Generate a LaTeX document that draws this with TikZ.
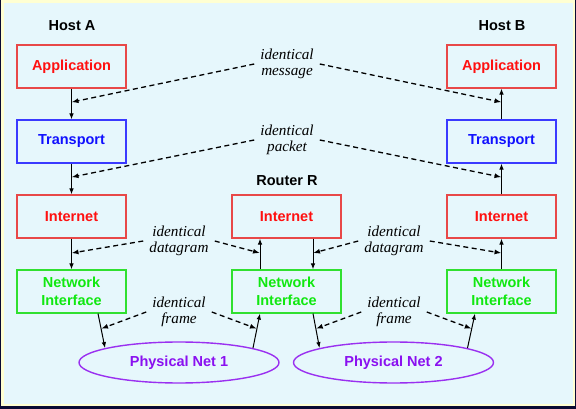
\documentclass[tikz,border=0pt]{standalone}
\usepackage{fontspec}
\setmainfont{Liberation Serif}
\setsansfont{Liberation Sans}
\usetikzlibrary{arrows.meta,shapes.geometric}
\definecolor{navy}{HTML}{0A0A33}
\definecolor{paleyellow}{HTML}{FFFFD2}
\definecolor{palebg}{HTML}{E6F7FC}
\definecolor{appred}{HTML}{FF1010}
\definecolor{boxred}{HTML}{E84848}
\definecolor{tblue}{HTML}{1010FF}
\definecolor{boxblue}{HTML}{3A3AFF}
\definecolor{ngreen}{HTML}{10E810}
\definecolor{boxgreen}{HTML}{30E030}
\definecolor{purp}{HTML}{8A10F0}
\definecolor{boxpurp}{HTML}{9A30F0}
\begin{document}
\begin{tikzpicture}[x=1pt,y=-1pt,
 layer/.style={draw,line width=1.1pt,minimum width=109pt,minimum height=43pt,inner sep=0pt,
   font=\fontsize{14.5}{17.5}\selectfont\sffamily\bfseries,align=center},
 app/.style={layer,draw=boxred,text=appred},
 tr/.style={layer,draw=boxblue,text=tblue},
 ni/.style={layer,draw=boxgreen,text=ngreen},
 hdr/.style={font=\fontsize{14.5}{16}\selectfont\sffamily\bfseries},
 lbl/.style={font=\fontsize{15.2}{16}\selectfont\itshape,align=center,inner xsep=6pt,inner ysep=0pt},
 arr/.style={line width=1pt,-{Latex[length=6pt,width=4.5pt]}},
 dsh/.style={line width=1.3pt,dash pattern=on 5pt off 3.5pt,-{Latex[length=7pt,width=5pt]}},
 net/.style={ellipse,draw=boxpurp,line width=1.4pt,minimum width=200pt,minimum height=41pt,inner sep=0pt,
   text=purp,font=\fontsize{14.5}{16}\selectfont\sffamily\bfseries}
]
\useasboundingbox (0,0) rectangle (576,409);
\fill[navy] (0,0) rectangle (576,409);
\fill[paleyellow] (1,0) rectangle (575.3,406);
\fill[palebg] (4,3) rectangle (573,404);

\node[hdr] (hA) at (72,26) {Host A};
\node[hdr] (hB) at (502,26) {Host B};
\node[hdr] (rR) at (287,181) {Router R};

\node[app] (appA) at (71.5,66.5) {Application};
\node[tr] (trA) at (71.5,141.5) {Transport};
\node[app] (inA) at (71.5,216.5) {Internet};
\node[ni] (niA) at (71.5,291.5) {Network\\Interface};

\node[app] (inR) at (286.5,216.5) {Internet};
\node[ni] (niR) at (286.5,291.5) {Network\\Interface};

\node[app] (appB) at (501.5,66.5) {Application};
\node[tr] (trB) at (501.5,141.5) {Transport};
\node[app] (inB) at (501.5,216.5) {Internet};
\node[ni] (niB) at (501.5,291.5) {Network\\Interface};

\node[net] (pn1) at (179,362.5) {Physical Net 1};
\node[net] (pn2) at (393.5,362.5) {Physical Net 2};

\node[lbl] (lm) at (287,64) {identical\\message};
\node[lbl] (lp) at (287,140) {identical\\packet};
\node[lbl] (ld1) at (179,241) {identical\\datagram};
\node[lbl] (ld2) at (394,241) {identical\\datagram};
\node[lbl] (lf1) at (179,312) {identical\\frame};
\node[lbl] (lf2) at (394,312) {identical\\frame};

\draw[arr] (appA.south) -- coordinate[pos=0.44] (mA) (trA.north);
\draw[arr] (trA.south) -- coordinate[pos=0.44] (pA) (inA.north);
\draw[arr] (inA.south) -- coordinate[pos=0.47] (dA) (niA.north);
\draw[arr] ([xshift=26.5pt]niA.south) -- coordinate[pos=0.44] (fA) (pn1.169);
\draw[arr] (pn1.11) -- coordinate[pos=0.56] (fR1) ([xshift=-26.5pt]niR.south);
\draw[arr] ([xshift=-26.5pt]niR.north) -- coordinate[pos=0.53] (dR1) ([xshift=-26.5pt]inR.south);
\draw[arr] ([xshift=26.5pt]inR.south) -- coordinate[pos=0.47] (dR2) ([xshift=26.5pt]niR.north);
\draw[arr] ([xshift=26.5pt]niR.south) -- coordinate[pos=0.44] (fR2) (pn2.169);
\draw[arr] (pn2.11) -- coordinate[pos=0.56] (fB) ([xshift=-26.5pt]niB.south);
\draw[arr] (niB.north) -- coordinate[pos=0.53] (dB) (inB.south);
\draw[arr] (inB.north) -- coordinate[pos=0.56] (pB) (trB.south);
\draw[arr] (trB.north) -- coordinate[pos=0.56] (mB) (appB.south);

\draw[dsh] (lm.west) -- (mA);
\draw[dsh] (lm.east) -- (mB);
\draw[dsh] (lp.west) -- (pA);
\draw[dsh] (lp.east) -- (pB);
\draw[dsh] (ld1.west) -- (dA);
\draw[dsh] (ld1.east) -- (dR1);
\draw[dsh] (ld2.west) -- (dR2);
\draw[dsh] (ld2.east) -- (dB);
\draw[dsh] (lf1.west) -- (fA);
\draw[dsh] (lf1.east) -- (fR1);
\draw[dsh] (lf2.west) -- (fR2);
\draw[dsh] (lf2.east) -- (fB);
\end{tikzpicture}
\end{document}
